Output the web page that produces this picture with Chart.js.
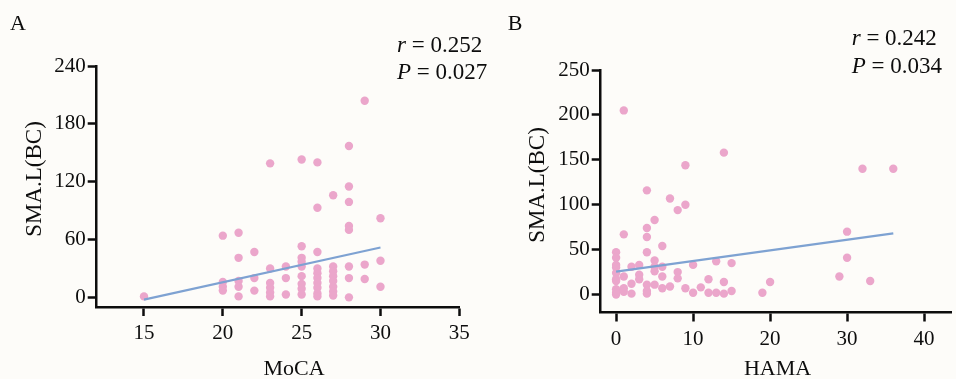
<!DOCTYPE html>
<html>
<head>
<meta charset="utf-8">
<script src="https://cdn.jsdelivr.net/npm/chart.js@4.4.1/dist/chart.umd.min.js"></script>
<style>
  html, body { margin: 0; padding: 0; background: #fdfcf9; }
  .wrap { position: relative; width: 956px; height: 379px; overflow: hidden; }
  canvas { position: absolute; top: 0; }
  #chartA { left: 0; }
  #chartB { left: 478px; }
</style>
</head>
<body>
<div class="wrap">
  <canvas id="chartA" width="520" height="379"></canvas>
  <canvas id="chartB" width="478" height="379"></canvas>
</div>
<script>
/* Panel A: MoCA vs SMA.L(BC) */
const MOCA_X = [
  15,
  20, 20, 20, 20,
  21, 21, 21, 21, 21,
  22, 22, 22,
  23, 23, 23, 23, 23, 23,
  24, 24, 24,
  25, 25, 25, 25, 25, 25, 25, 25, 25,
  26, 26, 26, 26, 26, 26, 26, 26, 26, 26,
  27, 27, 27, 27, 27, 27, 27, 27,
  28, 28, 28, 28, 28, 28, 28, 28,
  29, 29, 29,
  30, 30, 30,
];
const MOCA_BC = [
  1,
  64, 16, 11, 7,
  67, 41, 17, 11, 1,
  47, 20, 7,
  139, 30, 15, 10, 5, 1,
  32, 20, 3,
  143, 53, 41, 37, 32, 22, 14, 9, 3,
  140, 93, 47, 30, 25, 20, 15, 10, 4, 1,
  106, 32, 27, 22, 17, 11, 6, 2,
  157, 115, 99, 74, 70, 32, 20, 0,
  204, 34, 19,
  82, 38, 11,
];
const MOCA_FIT_X = [15, 30];
const MOCA_FIT_Y = [-2.4, 51.7];
const MOCA_X_TICKS = [15, 20, 25, 30, 35];
const MOCA_Y_TICKS = [0, 60, 120, 180, 240];

/* Panel B: HAMA vs SMA.L(BC) */
const HAMA_X = [
  0, 0, 0, 0, 0, 0, 0, 0, 0, 0,
  1, 1, 1, 1, 1,
  2, 2, 2,
  3, 3, 3,
  4, 4, 4, 4, 4, 4, 4,
  5, 5, 5, 5, 5,
  6, 6, 6, 6,
  7, 7,
  8, 8, 8,
  9, 9, 9,
  10, 10,
  11,
  12, 12,
  13, 13,
  14, 14, 14,
  15, 15,
  19, 20, 29, 30, 30, 32, 33, 36,
];
const HAMA_BC = [
  47, 41, 33, 30, 24, 17, 15, 6, 2, 0,
  205, 67, 20, 7, 3,
  31, 12, 1,
  33, 22, 17,
  116, 74, 64, 47, 11, 4, 1,
  83, 38, 31, 26, 11,
  54, 31, 20, 7,
  107, 9,
  94, 25, 18,
  144, 100, 7,
  33, 2,
  8,
  17, 2,
  37, 2,
  158, 14, 1,
  35, 4,
  2, 14, 20, 70, 41, 140, 15, 140,
];
const HAMA_FIT_X = [0, 36];
const HAMA_FIT_Y = [25.5, 68];
const HAMA_X_TICKS = [0, 10, 20, 30, 40];
const HAMA_Y_TICKS = [0, 50, 100, 150, 200, 250];

const INK = "#0d0d0d";
const PINK = "#eba6cb";
const BLUE = "#7ea2d2";
const SERIF = "'Liberation Serif', 'Times New Roman', serif";

Chart.defaults.font.family = SERIF;
Chart.defaults.color = INK;

function toPoints(xs, ys) {
  return xs.map((x, i) => ({ x: x, y: ys[i] }));
}

function drawStat(ctx, sym, value, x, y) {
  ctx.font = `italic 23px ${SERIF}`;
  ctx.fillText(sym, x, y);
  const w = ctx.measureText(sym).width;
  ctx.font = `23px ${SERIF}`;
  ctx.fillText(` = ${value}`, x + w, y);
}

// panel letter, r / P note and axis titles, drawn at fixed spots
const panelText = {
  id: "panelText",
  afterDraw(chart, args, o) {
    const ctx = chart.ctx;
    ctx.save();
    ctx.fillStyle = INK;
    ctx.textBaseline = "alphabetic";
    ctx.textAlign = "left";
    ctx.font = `22px ${SERIF}`;
    ctx.fillText(o.letter, o.letterX, 30);
    drawStat(ctx, "r", o.r, o.noteX, o.rY);
    drawStat(ctx, "P", o.p, o.noteX, o.pY);
    ctx.font = `22px ${SERIF}`;
    ctx.textAlign = "center";
    ctx.fillText(o.xTitle, o.xTitleX, 375);
    ctx.font = `23px ${SERIF}`;
    ctx.translate(o.yTitleX, o.yTitleY);
    ctx.rotate(-Math.PI / 2);
    ctx.fillText(o.yTitle, 0, 0);
    ctx.restore();
  },
};

function axis(min, max, ticks, fit, tickPad) {
  return {
    type: "linear",
    min: min,
    max: max,
    afterBuildTicks: (s) => {
      s.ticks = ticks.map((v) => ({ value: v }));
    },
    afterFit: fit,
    border: { display: true, color: INK, width: 2.5 },
    grid: {
      drawOnChartArea: false,
      drawTicks: true,
      tickLength: 9,
      tickColor: INK,
      tickWidth: 2.5,
    },
    ticks: {
      color: INK,
      font: { size: 21 },
      padding: tickPad,
      autoSkip: false,
      maxRotation: 0,
    },
  };
}

function makeChart(id, cfg) {
  return new Chart(document.getElementById(id), {
    type: "scatter",
    data: {
      datasets: [
        {
          data: toPoints(cfg.x, cfg.y),
          backgroundColor: PINK,
          borderWidth: 0,
          pointRadius: 4.2,
          pointHoverRadius: 4.2,
          order: 1,
        },
        {
          data: toPoints(cfg.fitX, cfg.fitY),
          showLine: true,
          borderColor: BLUE,
          borderWidth: 2.2,
          pointRadius: 0,
          order: 0,
        },
      ],
    },
    options: {
      responsive: false,
      animation: false,
      events: [],
      layout: { padding: cfg.padding },
      scales: {
        x: axis(cfg.xMin, cfg.xMax, cfg.xTicks, (s) => { s.height = cfg.xHeight; }, 5),
        y: axis(cfg.yMin, cfg.yMax, cfg.yTicks, (s) => { s.width = cfg.yWidth; }, 2),
      },
      plugins: {
        legend: { display: false },
        tooltip: { enabled: false },
        panelText: cfg.text,
      },
    },
    plugins: [panelText],
  });
}

makeChart("chartA", {
  x: MOCA_X, y: MOCA_BC, fitX: MOCA_FIT_X, fitY: MOCA_FIT_Y,
  xMin: 12, xMax: 35, xTicks: MOCA_X_TICKS,
  yMin: -10, yMax: 240, yTicks: MOCA_Y_TICKS,
  padding: { top: 66, right: 60.7, left: 0, bottom: 0 },
  xHeight: 72, yWidth: 96.7,
  text: {
    letter: "A", letterX: 10,
    r: "0.252", p: "0.027", noteX: 397, rY: 52, pY: 79,
    xTitle: "MoCA", xTitleX: 294,
    yTitle: "SMA.L(BC)", yTitleX: 40.5, yTitleY: 179,
  },
});

makeChart("chartB", {
  x: HAMA_X, y: HAMA_BC, fitX: HAMA_FIT_X, fitY: HAMA_FIT_Y,
  xMin: -2, xMax: 43.6, xTicks: HAMA_X_TICKS,
  yMin: -20, yMax: 250, yTicks: HAMA_Y_TICKS,
  padding: { top: 70, right: 0, left: 0, bottom: 0 },
  xHeight: 66.5, yWidth: 122.7,
  text: {
    letter: "B", letterX: 29.7,
    r: "0.242", p: "0.034", noteX: 373.7, rY: 45, pY: 72.7,
    xTitle: "HAMA", xTitleX: 299.5,
    yTitle: "SMA.L(BC)", yTitleX: 65.5, yTitleY: 185,
  },
});
</script>
</body>
</html>
